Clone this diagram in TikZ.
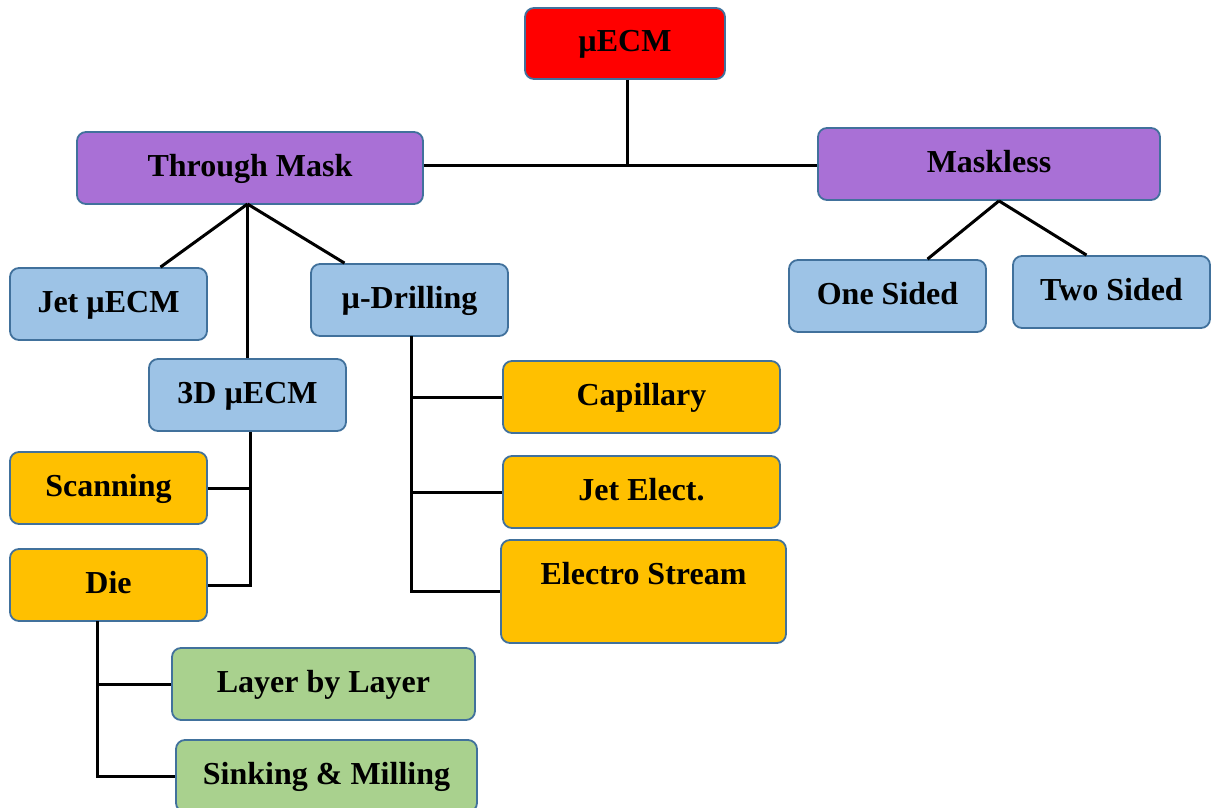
\documentclass[tikz,border=0pt]{standalone}
\usepackage{fontspec}
\setmainfont{Liberation Serif}
\usepackage{tikz}
\usetikzlibrary{positioning,calc}

\definecolor{edgeblue}{HTML}{41719C}
\definecolor{lightblue}{HTML}{9DC3E6}
\definecolor{amber}{HTML}{FFC000}
\definecolor{leafgreen}{HTML}{A9D18E}
\definecolor{violet}{HTML}{A970D6}

\begin{document}
\begin{tikzpicture}[x=1pt,y=-1pt,
    box/.style={rectangle,rounded corners=9pt,draw=edgeblue,line width=1.8pt,
        minimum width=197pt,minimum height=72pt,inner sep=0pt,
        text height=22pt,text depth=6pt,
        font=\fontsize{32}{38}\selectfont\bfseries},
    link/.style={line width=3pt,black}]

\useasboundingbox (0,0) rectangle (1211,808);

% Racine
\node[box,fill=red,minimum width=200pt,minimum height=71pt] (ecm) at (625,43.5) {µECM};

% Niveau 1
\node[box,fill=violet,minimum width=346pt] (tm) at (250,168) {Through Mask};
\node[box,fill=violet,minimum width=342pt] (ml) at (989,164) {Maskless};

% Niveau 2
\node[box,fill=lightblue] (jet) at (108.5,304) {Jet µECM};
\node[box,fill=lightblue] (drill) at (409.5,300) {µ-Drilling};
\node[box,fill=lightblue] (d3) at (247.5,395) {3D µECM};
\node[box,fill=lightblue] (one) at (887.5,296) {One Sided};
\node[box,fill=lightblue] (two) at (1111.5,292) {Two Sided};

% Niveau 3
\node[box,fill=amber,minimum width=277pt] (cap) at (641.5,397) {Capillary};
\node[box,fill=amber,minimum width=277pt] (jete) at (641.5,492) {Jet Elect.};
\node[box,fill=amber,minimum width=285pt,minimum height=103pt,text depth=37pt] (elec) at (643.5,591.5) {Electro Stream};
\node[box,fill=amber] (scan) at (108.5,488) {Scanning};
\node[box,fill=amber] (die) at (108.5,585) {Die};

% Niveau 4
\node[box,fill=leafgreen,minimum width=303pt] (layer) at (323.5,684) {Layer by Layer};
\node[box,fill=leafgreen,minimum width=301pt] (sink) at (326.5,776) {Sinking \& Milling};

% Liaisons
\coordinate (top) at (627,165);
\coordinate (fan) at (247.5,204);
\coordinate (dbus) at (411,336);
\coordinate (diebus) at (97,621);

\draw[link] (ecm.south -| top) -- (top);
\draw[link] (tm.east |- top) -- (ml.west |- top);

\draw[link] (fan) -- ([xshift=52pt]jet.north);
\draw[link] (fan) -- (d3.north);
\draw[link] (fan) -- ([xshift=-65pt]drill.north);

\draw[link] ([xshift=10pt]ml.south) -- ([xshift=40pt]one.north);
\draw[link] ([xshift=10pt]ml.south) -- ([xshift=-25pt]two.north);

\draw[link] (dbus) |- (elec.west);
\draw[link] (dbus |- cap.west) -- (cap.west);
\draw[link] (dbus |- jete.west) -- (jete.west);

\draw[link] ([xshift=2.5pt]d3.south) |- (die.east);
\draw[link] ([xshift=2.5pt]d3.south |- scan.east) -- (scan.east);

\draw[link] (diebus) |- (sink.west);
\draw[link] (diebus |- layer.west) -- (layer.west);

\end{tikzpicture}
\end{document}
